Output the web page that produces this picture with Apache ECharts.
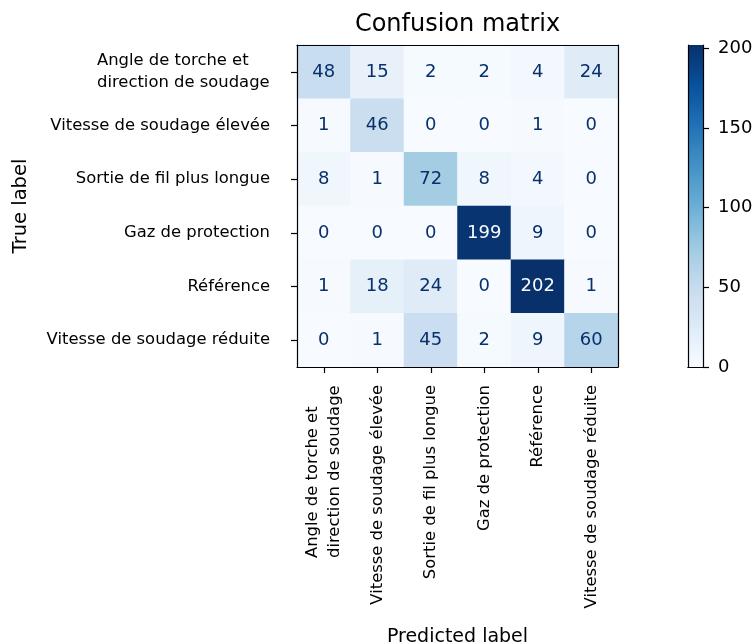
<!DOCTYPE html>
<html>
<head>
<meta charset="utf-8">
<script src="https://cdn.jsdelivr.net/npm/echarts@6/dist/echarts.min.js"></script>
<style>
  html, body { margin: 0; padding: 0; background: #fff; }
  #chart { width: 756px; height: 643px; }
</style>
</head>
<body>
<div id="chart"></div>
<script>
// Class names (same order on both axes)
const classes = [
  'Angle de torche et\ndirection de soudage',
  'Vitesse de soudage élevée',
  'Sortie de fil plus longue',
  'Gaz de protection',
  'Référence',
  'Vitesse de soudage réduite'
];

// Confusion counts, one row per true class
const row0 = [48, 15, 2, 2, 4, 24];
const row1 = [1, 46, 0, 0, 1, 0];
const row2 = [8, 1, 72, 8, 4, 0];
const row3 = [0, 0, 0, 199, 9, 0];
const row4 = [1, 18, 24, 0, 202, 1];
const row5 = [0, 1, 45, 2, 9, 60];
const counts = [row0, row1, row2, row3, row4, row5];

// Colour bar ticks
const colorbarTicks = [0, 50, 100, 150, 200];

// matplotlib "Blues" colormap stops
const blues = ['#f7fbff', '#deebf7', '#c6dbef', '#9ecae1', '#6baed6',
               '#4292c6', '#2171b5', '#08519c', '#08306b'];

const FONT = 'DejaVu Sans';
let vmin = Infinity, vmax = -Infinity;
counts.forEach(r => r.forEach(v => { vmin = Math.min(vmin, v); vmax = Math.max(vmax, v); }));
const threshold = (vmin + vmax) / 2;

const cells = [];
counts.forEach((r, i) => r.forEach((v, j) => {
  cells.push({
    value: [j, i, v],
    label: { color: v > threshold ? blues[0] : blues[8] }
  });
}));

const TICK_FS = 16.4;

// Multi-line labels: lines left-aligned inside a right-anchored block
function catLabel(s) {
  if (s.indexOf('\n') < 0) return s;
  return s.split('\n').map(t => '{l|' + t + '}').join('\n');
}
// width of the widest line among the multi-line labels
const measureCtx = document.createElement('canvas').getContext('2d');
measureCtx.font = TICK_FS + 'px "' + FONT + '"';
let widest = 0;
classes.filter(s => s.indexOf('\n') >= 0).forEach(s => s.split('\n').forEach(t => {
  widest = Math.max(widest, measureCtx.measureText(t).width);
}));
const richLines = { l: { fontFamily: FONT, fontSize: TICK_FS, color: '#000', width: Math.ceil(widest) || 167, align: 'left', lineHeight: 22 } };

const blackLine = { show: true, lineStyle: { color: '#000', width: 1.2 } };

// Colour bar gradient, bottom (0) to top (max)
const barGradient = new echarts.graphic.LinearGradient(0, 1, 0, 0,
  blues.map((c, k) => ({ offset: k / (blues.length - 1), color: c })));

const chart = echarts.init(document.getElementById('chart'), null, { renderer: 'canvas' });
chart.setOption({
  backgroundColor: '#fff',
  animation: false,
  textStyle: { fontFamily: FONT },
  title: {
    text: 'Confusion matrix',
    left: 457.5, textAlign: 'center', top: 13, padding: 0,
    textStyle: { fontFamily: FONT, fontSize: 24, fontWeight: 'normal', color: '#000' }
  },
  grid: [
    { left: 297, top: 45, width: 321, height: 322, containLabel: false, outerBoundsMode: 'none' },
    { left: 688, top: 45, width: 15, height: 322, containLabel: false, outerBoundsMode: 'none' }
  ],
  xAxis: [
    {
      gridIndex: 0, type: 'category', data: classes, position: 'bottom', z: 10,
      axisLine: blackLine,
      axisTick: { show: true, alignWithLabel: true, length: 6, lineStyle: { color: '#000', width: 1.2 } },
      axisLabel: { rotate: 90, margin: 18, fontSize: TICK_FS, color: '#000', lineHeight: 22, formatter: catLabel, rich: richLines },
      splitLine: { show: false },
      name: 'Predicted label', nameLocation: 'middle', nameGap: 261,
      nameTextStyle: { fontFamily: FONT, fontSize: 19, color: '#000' }
    },
    {
      gridIndex: 0, type: 'category', data: classes, position: 'top', z: 10,
      axisLine: blackLine, axisTick: { show: false }, axisLabel: { show: false }, splitLine: { show: false }
    },
    {
      gridIndex: 1, type: 'category', data: [''], position: 'bottom', z: 10,
      axisLine: blackLine, axisTick: { show: false }, axisLabel: { show: false }, splitLine: { show: false }
    },
    {
      gridIndex: 1, type: 'category', data: [''], position: 'top', z: 10,
      axisLine: blackLine, axisTick: { show: false }, axisLabel: { show: false }, splitLine: { show: false }
    }
  ],
  yAxis: [
    {
      gridIndex: 0, type: 'category', data: classes, inverse: true, position: 'left', z: 10,
      axisLine: blackLine,
      axisTick: { show: true, alignWithLabel: true, length: 6, lineStyle: { color: '#000', width: 1.2 } },
      axisLabel: { margin: 27, fontSize: TICK_FS, color: '#000', lineHeight: 22, formatter: catLabel, rich: richLines },
      splitLine: { show: false },
      name: 'True label', nameLocation: 'middle', nameGap: 266,
      nameTextStyle: { fontFamily: FONT, fontSize: 19.5, color: '#000' }
    },
    {
      gridIndex: 0, type: 'category', data: classes, inverse: true, position: 'right', z: 10,
      axisLine: blackLine, axisTick: { show: false }, axisLabel: { show: false }, splitLine: { show: false }
    },
    {
      gridIndex: 1, type: 'value', min: 0, max: vmax, position: 'right', z: 10,
      axisLine: blackLine,
      axisTick: { show: true, length: 6, lineStyle: { color: '#000', width: 1.2 }, customValues: colorbarTicks },
      axisLabel: { margin: 15, fontSize: 18, color: '#000', customValues: colorbarTicks },
      splitLine: { show: false }
    },
    {
      gridIndex: 1, type: 'value', min: 0, max: vmax, position: 'left', z: 10,
      axisLine: blackLine, axisTick: { show: false }, axisLabel: { show: false }, splitLine: { show: false }
    }
  ],
  visualMap: {
    type: 'continuous', seriesIndex: 0, min: 0, max: vmax, show: false,
    inRange: { color: blues }
  },
  series: [
    {
      type: 'heatmap', xAxisIndex: 0, yAxisIndex: 0,
      data: cells,
      label: { show: true, fontFamily: FONT, fontSize: 18, formatter: p => p.value[2] },
      emphasis: { disabled: true }
    },
    {
      // colour bar: one full-range bar filled with the colormap
      type: 'bar', xAxisIndex: 2, yAxisIndex: 2,
      data: [vmax], barWidth: '100%', silent: true,
      itemStyle: { color: barGradient }
    }
  ]
});
</script>
</body>
</html>
